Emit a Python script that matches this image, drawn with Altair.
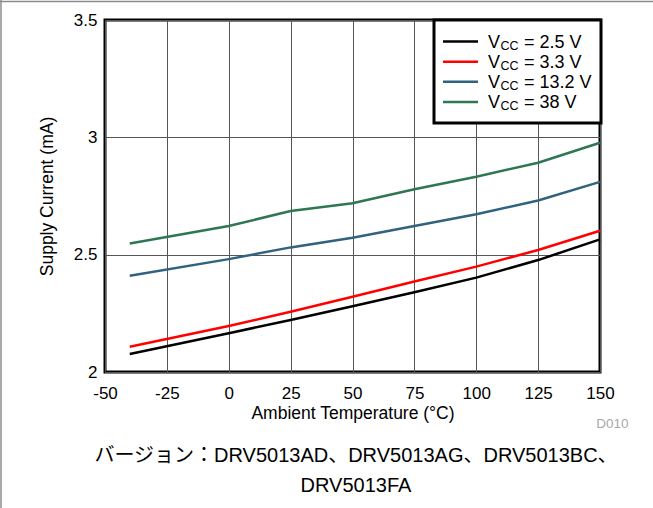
import altair as alt
import pandas as pd

# ---- data ----
temps = [-40, 0, 25, 50, 75, 100, 125, 150]
vcc_2_5 = [2.077, 2.165, 2.222, 2.280, 2.340, 2.402, 2.477, 2.565]
vcc_3_3 = [2.108, 2.196, 2.257, 2.321, 2.386, 2.449, 2.520, 2.602]
vcc_13_2 = [2.410, 2.481, 2.531, 2.572, 2.622, 2.672, 2.731, 2.810]
vcc_38 = [2.548, 2.622, 2.686, 2.719, 2.779, 2.832, 2.892, 2.977]

series_names = ["2.5 V", "3.3 V", "13.2 V", "38 V"]
series_values = [vcc_2_5, vcc_3_3, vcc_13_2, vcc_38]
series_colors = ["#000000", "#ff0000", "#31627f", "#2e7752"]

x_ticks = [-50, -25, 0, 25, 50, 75, 100, 125, 150]
y_ticks = [2, 2.5, 3, 3.5]

rows = []
for name, vals in zip(series_names, series_values):
    for t, v in zip(temps, vals):
        rows.append({"temp": t, "current": v, "series": name})
df = pd.DataFrame(rows)

legend_df = pd.DataFrame({"series": series_names, "row": list(range(len(series_names))),
                          "label": ["= " + s for s in series_names]})

FONT = "Liberation Sans, Arial, Helvetica, sans-serif"
color_scale = alt.Scale(domain=series_names, range=series_colors)

lines = alt.Chart(df).mark_line(strokeWidth=2.5).encode(
    x=alt.X("temp:Q", scale=alt.Scale(domain=[-50, 150], nice=False, zero=False),
            axis=alt.Axis(values=x_ticks, title="Ambient Temperature (°C)", grid=True,
                          ticks=False, tickSize=0, domain=False, labelPadding=13,
                          titlePadding=3, labelFlush=False,
                          labelExpr="'' + datum.value")),
    y=alt.Y("current:Q", scale=alt.Scale(domain=[2, 3.5], nice=False, zero=False),
            axis=alt.Axis(values=y_ticks, title="Supply Current (mA)", grid=True,
                          ticks=False, tickSize=0, domain=False, labelPadding=8,
                          titlePadding=17, labelFlush=False,
                          labelExpr="'' + datum.value")),
    color=alt.Color("series:N", scale=color_scale, legend=None),
)

row_scale = alt.Scale(domain=[0, 3], range=[21.6, 81.9])

legend_box = alt.Chart(pd.DataFrame({"k": [0]})).mark_rect(
    fill="white", stroke="black", strokeWidth=3
).encode(x=alt.value(329), x2=alt.value(496), y=alt.value(0), y2=alt.value(103))

legend_lines = alt.Chart(legend_df).mark_rule(strokeWidth=2.5).encode(
    x=alt.value(338), x2=alt.value(373),
    y=alt.Y("row:Q", scale=row_scale, axis=None),
    color=alt.Color("series:N", scale=color_scale, legend=None),
)

legend_v = alt.Chart(legend_df).mark_text(
    align="left", baseline="alphabetic", fontSize=18, font=FONT, dy=6, color="black"
).encode(x=alt.value(383), y=alt.Y("row:Q", scale=row_scale, axis=None), text=alt.value("V"))

legend_cc = alt.Chart(legend_df).mark_text(
    align="left", baseline="alphabetic", fontSize=12.5, font=FONT, dy=8.5, color="black"
).encode(x=alt.value(395.5), y=alt.Y("row:Q", scale=row_scale, axis=None), text=alt.value("CC"))

legend_lbl = alt.Chart(legend_df).mark_text(
    align="left", baseline="alphabetic", fontSize=18, font=FONT, dy=6, color="black"
).encode(x=alt.value(419), y=alt.Y("row:Q", scale=row_scale, axis=None), text="label:N")

one = pd.DataFrame({"k": [0]})
d010 = alt.Chart(one).mark_text(
    align="right", baseline="alphabetic", fontSize=13.5, font=FONT, color="#a8a8a8"
).encode(x=alt.value(523.5), y=alt.value(408.3), text=alt.value("D010"))

CJK = "Liberation Sans, Arial, Noto Sans CJK JP, sans-serif"
cap1 = alt.Chart(one).mark_text(
    align="center", baseline="alphabetic", fontSize=20, font=CJK, color="black"
).encode(x=alt.value(251), y=alt.value(441.5),
         text=alt.value("バージョン：DRV5013AD、DRV5013AG、DRV5013BC、"))
cap2 = alt.Chart(one).mark_text(
    align="center", baseline="alphabetic", fontSize=20, font=CJK, color="black"
).encode(x=alt.value(251), y=alt.value(472), text=alt.value("DRV5013FA"))

border_top = alt.Chart(one).mark_rule(color="#8c8c8c", strokeWidth=1.5).encode(
    x=alt.value(-105), x2=alt.value(548), y=alt.value(-18.5))
border_left = alt.Chart(one).mark_rule(color="#8c8c8c", strokeWidth=1.5).encode(
    x=alt.value(-104), y=alt.value(-20), y2=alt.value(488))

chart = alt.layer(
    lines, legend_box, legend_lines, legend_v, legend_cc, legend_lbl,
    d010, cap1, cap2, border_top, border_left
).resolve_scale(y="independent").properties(
    width=495, height=352,
    autosize=alt.AutoSizeParams(type="none"),
    padding={"left": 105, "top": 20, "right": 53, "bottom": 136},
    background="white",
).configure_view(
    stroke="black", strokeWidth=3
).configure_axis(
    labelFont=FONT, titleFont=FONT, labelFontSize=17, titleFontSize=17.5,
    labelColor="black", titleColor="black", titleFontWeight="normal",
    gridColor="#555555", gridWidth=1, gridOpacity=1,
)

chart.save("out.html", embed_options={"renderer": "svg", "actions": False})
